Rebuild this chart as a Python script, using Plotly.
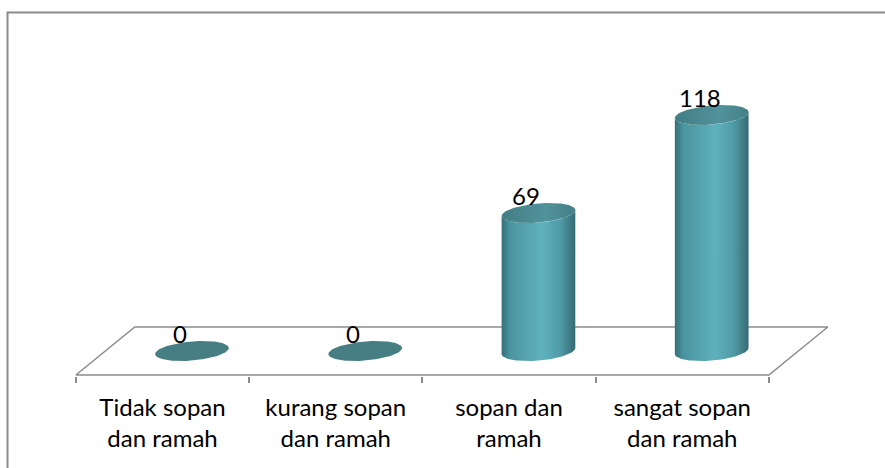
import numpy as np
import plotly.graph_objects as go

# Survey results: perceived politeness
categories = ["Tidak sopan<br>dan ramah", "kurang sopan<br>dan ramah",
              "sopan dan<br>ramah", "sangat sopan<br>dan ramah"]
values = [0, 0, 69, 118]

W, H = 885, 468
PX_PER_CAT = 173.25        # horizontal pixels per category
PX_PER_UNIT = 2.0          # vertical pixels per value unit
FIRST_CENTER_PX = 162.5    # pixel x of the first category centre
ZERO_PX = 351              # pixel y of value 0 (mid-depth of the floor)
FLOOR_HALF_DEPTH = 12      # value units from mid-depth to front/back floor edge
DEPTH_SHIFT = 0.34         # x shift (in categories) from front to back floor edge

x_range = [-FIRST_CENTER_PX / PX_PER_CAT, (W - FIRST_CENTER_PX) / PX_PER_CAT]
bottom_px = 376
y_range = [-(bottom_px - ZERO_PX) / PX_PER_UNIT, ZERO_PX / PX_PER_UNIT]

RX, RY, TILT = 37.0, 9.5, np.radians(5)


def ellipse(cx, cy, t):
    """Points of a slightly tilted ellipse (pixel radii) in data units."""
    ex, ey = RX * np.cos(t), RY * np.sin(t)
    dx = ex * np.cos(TILT) - ey * np.sin(TILT)
    dy = ex * np.sin(TILT) + ey * np.cos(TILT)
    return cx + dx / PX_PER_CAT, cy + dy / PX_PER_UNIT


fig = go.Figure()

# floor parallelogram
n = len(categories)
fx = [-0.5, n - 0.5, n - 0.5 + DEPTH_SHIFT, -0.5 + DEPTH_SHIFT, -0.5]
fy = [-FLOOR_HALF_DEPTH, -FLOOR_HALF_DEPTH, FLOOR_HALF_DEPTH, FLOOR_HALF_DEPTH, -FLOOR_HALF_DEPTH]
fig.add_trace(go.Scatter(x=fx, y=fy, mode="lines",
                         line=dict(color="#8c8c8c", width=1.5),
                         hoverinfo="skip", showlegend=False))

body_scale = [[0, "#35707a"], [0.12, "#4a959f"], [0.55, "#5fb1be"],
              [0.8, "#4f9aa6"], [1, "#366b74"]]
top_scale = [[0, "#427d85"], [0.6, "#51939b"], [1, "#447f87"]]

full = np.linspace(0, 2 * np.pi, 120)
front = np.linspace(np.pi, 2 * np.pi, 60)

for i, v in enumerate(values):
    cx = i + DEPTH_SHIFT / 2
    if v > 0:
        bx, by = ellipse(cx, 0, front)
        tx, ty = ellipse(cx, v, front[::-1])
        xs = np.concatenate([bx, tx, bx[:1]])
        ys = np.concatenate([by, ty, by[:1]])
        fig.add_trace(go.Scatter(x=xs, y=ys, mode="lines", fill="toself",
                                 line=dict(width=0),
                                 fillgradient=dict(type="horizontal", colorscale=body_scale),
                                 hoverinfo="skip", showlegend=False))
        ex, ey = ellipse(cx, v, full)
        fig.add_trace(go.Scatter(x=ex, y=ey, mode="lines", fill="toself",
                                 line=dict(width=0),
                                 fillgradient=dict(type="horizontal", colorscale=top_scale),
                                 hoverinfo="skip", showlegend=False))
    else:
        ex, ey = ellipse(cx, v, full)
        fig.add_trace(go.Scatter(x=ex, y=ey, mode="lines", fill="toself",
                                 line=dict(width=0), fillcolor="#467e83",
                                 hoverinfo="skip", showlegend=False))
    fig.add_annotation(x=cx, y=v, text=str(v), showarrow=False,
                       xshift=-12, yshift=18,
                       font=dict(family="Lato", size=24, color="#000000"))

fig.update_layout(
    width=W, height=H,
    margin=dict(l=0, r=0, t=0, b=0),
    paper_bgcolor="white", plot_bgcolor="white",
    font=dict(family="Lato", size=24, color="#000000"),
    xaxis=dict(range=x_range, domain=[0, 1], showgrid=False, zeroline=False,
               showline=False, tickmode="array", tickvals=list(range(n)),
               ticktext=categories, ticks="", automargin=False,
               ticklabelstandoff=15,
               minor=dict(tickmode="array",
                          tickvals=[k - 0.5 for k in range(n + 1)],
                          ticks="outside", ticklen=6, tickwidth=1.5,
                          tickcolor="#8c8c8c", showgrid=False),
               fixedrange=True),
    yaxis=dict(range=y_range, domain=[(H - bottom_px) / H, 1], visible=False,
               fixedrange=True),
    shapes=[dict(type="rect", xref="paper", yref="paper",
                 x0=7.5 / W, x1=1.02, y0=-0.02, y1=(H - 12.5) / H,
                 line=dict(color="#8a8a8a", width=2), fillcolor="rgba(0,0,0,0)")],
)

fig.write_html("out.html")
